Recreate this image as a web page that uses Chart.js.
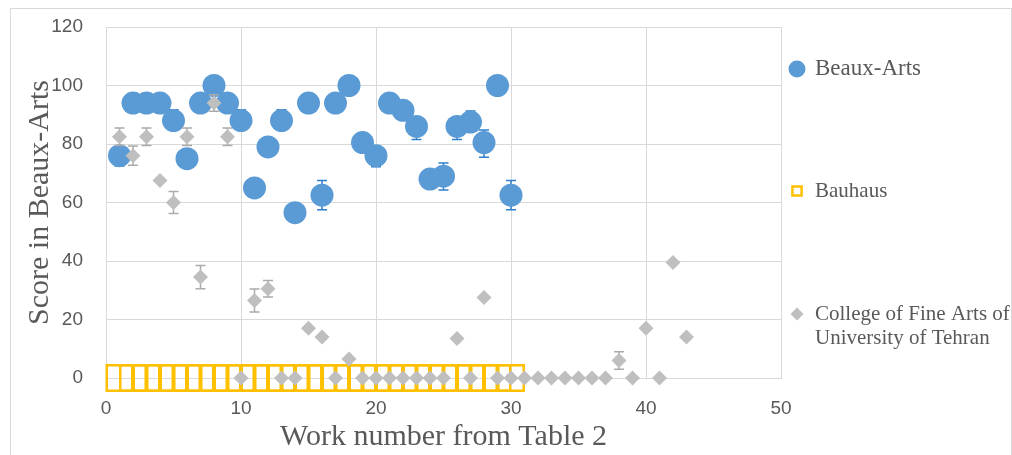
<!DOCTYPE html>
<html>
<head>
<meta charset="utf-8">
<script src="https://cdn.jsdelivr.net/npm/chart.js@4.4.1/dist/chart.umd.min.js"></script>
<style>
  body { margin: 0; background: #fff; }
  #wrap { width: 1012px; height: 455px; }
</style>
</head>
<body>
<div id="wrap"><canvas id="chart" width="1012" height="455"></canvas></div>
<script>
// values
var seriesNames = ['Beaux-Arts', 'Bauhaus', ['College of Fine Arts of', 'University of Tehran']];

var beauxWork = [1,2,3,4,5,6,7,8,9,10,11,12,13,14,15,16,17,18,19,20,21,22,23,24,25,26,27,28,29,30];
var beauxScore = [76,94,94,94,88,75,94,100,94,88,65,79,88,56.5,94,62.5,94,100,80.5,76,94,91.5,86,68,69,86,87.5,80.5,100,62.5];
var beauxErrPlus  = [3,0,0,0,3.7,0,0,0,0,3.7,0,0,3.7,0,0,5,0,0,0,3,0,0,3,0,4.5,3,3.8,4.3,0,5];
var beauxErrMinus = [3.5,0,0,0,3,0,0,0,0,3,0,0,3,0,0,5,0,0,0,3.8,0,0,4.5,0,4.7,4.5,3,5,0,5];

var bauhausWork = [1,2,3,4,5,6,7,8,9,10,11,12,13,14,15,16,17,18,19,20,21,22,23,24,25,26,27,28,29,30];
var bauhausScore = [0,0,0,0,0,0,0,0,0,0,0,0,0,0,0,0,0,0,0,0,0,0,0,0,0,0,0,0,0,0];

var tehranWork = [1,2,3,4,5,6,7,8,9,10,11,12,13,14,15,16,17,18,19,20,21,22,23,24,25,26,27,28,29,30,31,32,33,34,35,36,37,38,39,40,41,42,43];
var tehranScore = [82.5,76,82.5,67.5,60,82.5,34.5,94,82.5,0,26.5,30.5,0,0,17,14,0,6.5,0,0,0,0,0,0,0,13.5,0,27.5,0,0,0,0,0,0,0,0,0,6,0,17,0,39.5,14];
var tehranErr = [3,3.3,3,0,3.8,3,4,2.8,3,0,3.9,2.8,0,0,0,0,0,0,0,0,0,0,0,0,0,0,0,0,0,0,0,0,0,0,0,0,0,3,0,0,0,0,0];

var xTicks = [0, 10, 20, 30, 40, 50];
var yTicks = [0, 20, 40, 60, 80, 100, 120];

var blue = '#5B9BD5', blueBar = '#2F7FCB', gold = '#FFC000', grey = '#BFBFBF', greyBar = '#ABABAB';
var textCol = '#595959', gridCol = '#D9D9D9';

function pts(xs, ys) {
  return xs.map(function(x, i) { return {x: x, y: ys[i]}; });
}

// error bars, drawn under each dataset's markers
var errorBars = {
  id: 'errorBars',
  beforeDatasetDraw: function(chart, args) {
    var ds = chart.data.datasets[args.index];
    if (!ds.errPlus) return;
    var ctx = chart.ctx, xs = chart.scales.x, ys = chart.scales.y;
    ctx.save();
    ctx.strokeStyle = ds.errColor;
    ctx.lineWidth = 1.5;
    ds.data.forEach(function(p, i) {
      var up = ds.errPlus[i], dn = ds.errMinus[i];
      if (!up && !dn) return;
      var px = xs.getPixelForValue(p.x);
      var t = ys.getPixelForValue(p.y + up), b = ys.getPixelForValue(p.y - dn);
      ctx.beginPath();
      ctx.moveTo(px, t); ctx.lineTo(px, b);
      ctx.moveTo(px - 5, t); ctx.lineTo(px + 5, t);
      ctx.moveTo(px - 5, b); ctx.lineTo(px + 5, b);
      ctx.stroke();
    });
    ctx.restore();
  }
};

// outer frame + legend on the right
var frameLegend = {
  id: 'frameLegend',
  beforeDraw: function(chart) {
    var ctx = chart.ctx;
    ctx.save();
    ctx.strokeStyle = gridCol;
    ctx.lineWidth = 1;
    ctx.strokeRect(10.5, 8.5, 1001, 470);
    ctx.restore();
  },
  afterDraw: function(chart) {
    var ctx = chart.ctx, dp = Chart.helpers.drawPoint;
    ctx.save();
    ctx.fillStyle = blue; ctx.strokeStyle = blue;
    dp(ctx, {pointStyle: 'circle', radius: 8.5, borderWidth: 0}, 797, 69);
    ctx.fillStyle = '#fff'; ctx.strokeStyle = gold; ctx.lineWidth = 2.5;
    dp(ctx, {pointStyle: 'rect', radius: 6.5, borderWidth: 2.5}, 797, 191);
    ctx.fillStyle = grey; ctx.strokeStyle = grey; ctx.lineWidth = 0;
    dp(ctx, {pointStyle: 'rectRot', radius: 6.5, borderWidth: 0}, 797, 314);

    ctx.fillStyle = textCol;
    ctx.textBaseline = 'middle';
    ctx.textAlign = 'left';
    ctx.font = '23px "Liberation Serif"';
    ctx.fillText(seriesNames[0], 815, 69);
    ctx.font = '21px "Liberation Serif"';
    ctx.fillText(seriesNames[1], 815, 191);
    ctx.fillText(seriesNames[2][0], 815, 314);
    ctx.fillText(seriesNames[2][1], 815, 338);
    ctx.restore();
  }
};

new Chart(document.getElementById('chart'), {
  type: 'scatter',
  data: {
    datasets: [
      {label: 'Beaux-Arts', data: pts(beauxWork, beauxScore), order: 1, clip: false,
       pointStyle: 'circle', pointRadius: 11.5, pointHoverRadius: 11.5,
       backgroundColor: blue, borderColor: blue, borderWidth: 0,
       errPlus: beauxErrPlus, errMinus: beauxErrMinus, errColor: blueBar},
      {label: 'Bauhaus', data: pts(bauhausWork, bauhausScore), order: 2, clip: false,
       pointStyle: 'rect', pointRadius: 18, pointHoverRadius: 18,
       backgroundColor: 'rgba(0,0,0,0)', borderColor: gold, borderWidth: 2.5},
      {label: 'College of Fine Arts of University of Tehran', data: pts(tehranWork, tehranScore), order: 0, clip: false,
       pointStyle: 'rectRot', pointRadius: 7.5, pointHoverRadius: 7.5,
       backgroundColor: grey, borderColor: grey, borderWidth: 0,
       errPlus: tehranErr, errMinus: tehranErr, errColor: greyBar}
    ]
  },
  options: {
    responsive: false,
    animation: false,
    events: [],
    layout: {padding: {left: 10, right: 231, top: 27, bottom: 0}},
    plugins: {legend: {display: false}, tooltip: {enabled: false}},
    scales: {
      x: {
        type: 'linear', min: 0, max: 50,
        afterBuildTicks: function(s) { s.ticks = xTicks.map(function(v) { return {value: v}; }); },
        afterFit: function(s) { s.height = 77; s.paddingLeft = 0; s.paddingRight = 0; },
        grid: {color: gridCol, lineWidth: 1, drawTicks: false},
        border: {color: gridCol},
        ticks: {color: textCol, padding: 19, maxRotation: 0, font: {family: '"Liberation Sans"', size: 19}},
        title: {display: true, text: 'Work number from Table 2', color: textCol,
                font: {family: '"Liberation Serif"', size: 30}, padding: {top: 0, bottom: 0}}
      },
      y: {
        type: 'linear', min: 0, max: 120,
        afterBuildTicks: function(s) { s.ticks = yTicks.map(function(v) { return {value: v}; }); },
        afterFit: function(s) { s.width = 96; s.paddingTop = 0; s.paddingBottom = 0; },
        grid: {color: gridCol, lineWidth: 1, drawTicks: false},
        border: {color: gridCol},
        ticks: {color: textCol, padding: 23, font: {family: '"Liberation Sans"', size: 19}},
        title: {display: true, text: 'Score in Beaux-Arts', color: textCol,
                font: {family: '"Liberation Serif"', size: 30}, padding: {top: 12, bottom: 0}}
      }
    }
  },
  plugins: [errorBars, frameLegend]
});
</script>
</body>
</html>
